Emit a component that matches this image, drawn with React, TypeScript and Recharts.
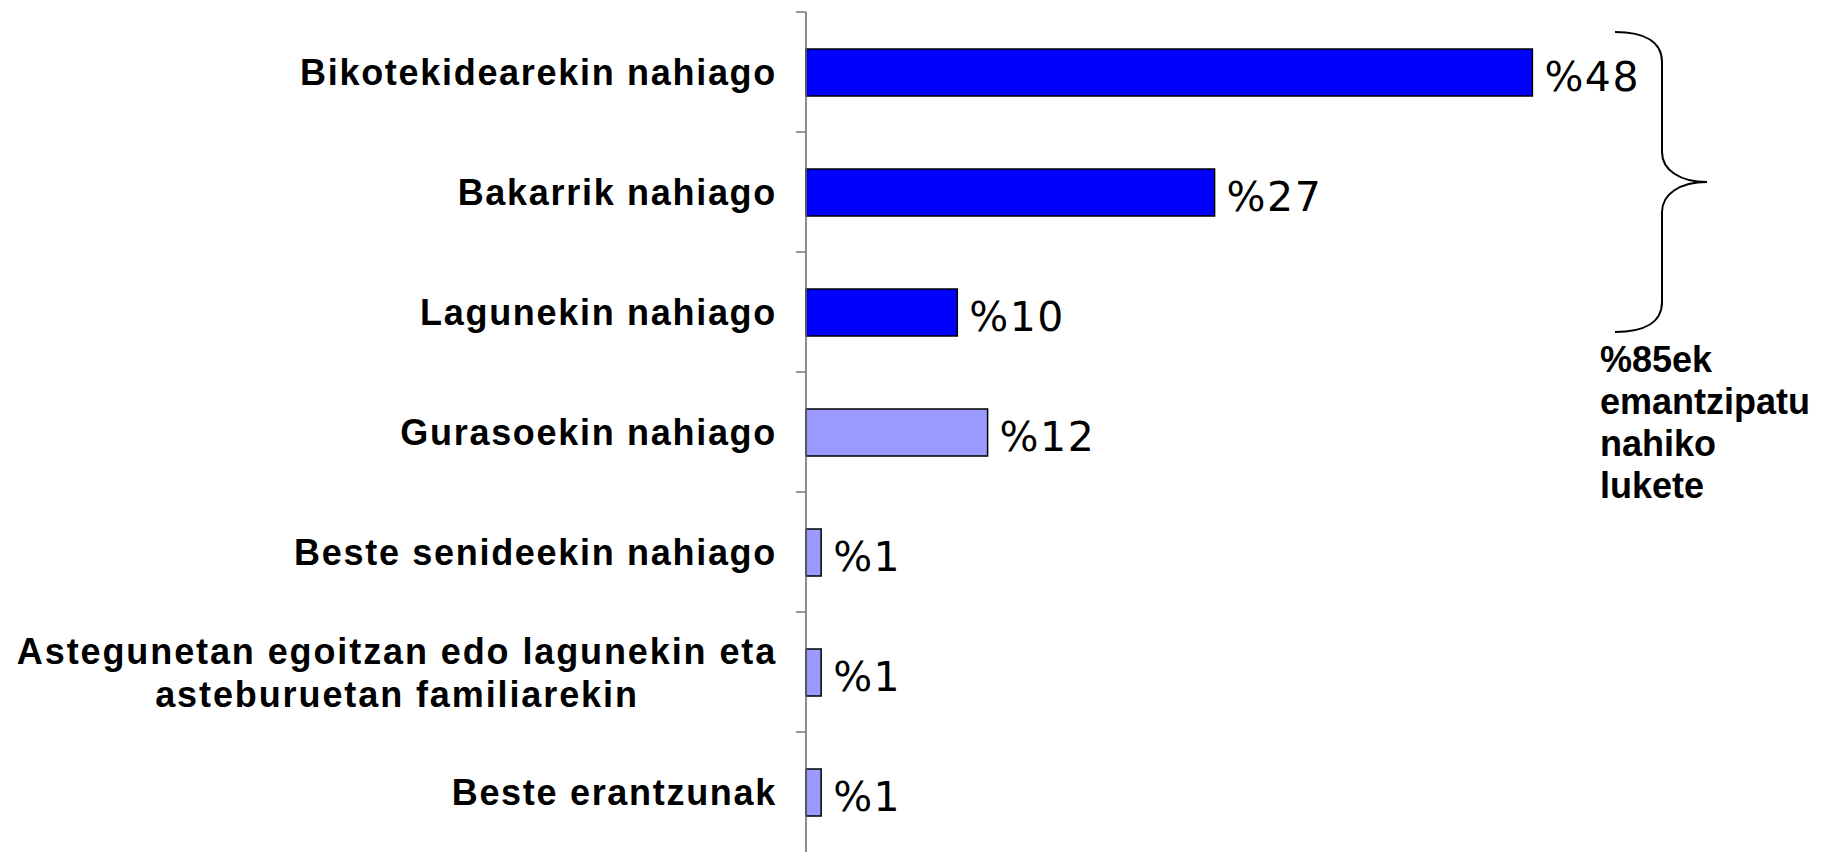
import { BarChart, Bar, XAxis, YAxis, Cell, LabelList } from "recharts";

const categories = [
  "Bikotekidearekin nahiago",
  "Bakarrik nahiago",
  "Lagunekin nahiago",
  "Gurasoekin nahiago",
  "Beste senideekin nahiago",
  "Astegunetan egoitzan edo lagunekin eta\nasteburuetan familiarekin",
  "Beste erantzunak",
];
const values = [48, 27, 10, 12, 1, 1, 1];
// true = would like to be emancipated (the bracketed group)
const emancipated = [true, true, true, false, false, false, false];
const annotationLines = ["%85ek", "emantzipatu", "nahiko", "lukete"];

const chartData = categories.map((name, i) => ({
  name,
  value: values[i],
  emancipated: emancipated[i],
}));

const labelFont = "'Liberation Sans', Arial, sans-serif";
const valueFont = "'DejaVu Sans', Verdana, sans-serif";

function CategoryTick(props: any) {
  const { x, y, payload } = props;
  const half = payload.offset ?? 0;
  const lines = String(payload.value).split("\n");
  const lineH = 43;
  const first = y + 13 - ((lines.length - 1) * lineH) / 2;
  const multi = lines.length > 1;
  return (
    <g>
      <line x1={x - 10} x2={x} y1={y - half} y2={y - half} stroke="#777" strokeWidth={1.5} />
      <text
        fontFamily={labelFont}
        fontWeight="bold"
        fontSize={36}
        letterSpacing={multi ? 1.9 : 1.7}
        fill="#000"
        textAnchor={multi ? "middle" : "end"}
      >
        {lines.map((l, i) => (
          <tspan key={i} x={multi ? x - 29 - 380 : x - 29} y={first + i * lineH}>
            {l}
          </tspan>
        ))}
      </text>
    </g>
  );
}

function ValueLabel(props: any) {
  const { x, y, width, height, value } = props;
  return (
    <text
      x={x + width + 12}
      y={y + height / 2 + 18}
      fontFamily={valueFont}
      fontSize={41}
      letterSpacing={1.5}
      fill="#000"
    >
      {`%${value}`}
    </text>
  );
}

export default function App() {
  return (
    <div style={{ position: "absolute", left: 0, top: 0, width: 1823, height: 852, background: "#fff" }}>
      <BarChart
        width={1823}
        height={852}
        data={chartData}
        layout="vertical"
        margin={{ top: 12, right: 109, left: 0, bottom: 0 }}
      >
        <XAxis type="number" domain={[0, 60]} hide />
        <YAxis
          type="category"
          dataKey="name"
          width={806}
          tickSize={0}
          tickMargin={0}
          tickLine={false}
          axisLine={{ stroke: "#666", strokeWidth: 1.5 }}
          tick={<CategoryTick />}
          interval={0}
        />
        <Bar
          dataKey="value"
          barSize={47}
          stroke="#000"
          strokeWidth={1.5}
          isAnimationActive={false}
        >
          {chartData.map((d, i) => (
            <Cell key={`cell-${i}`} fill={d.emancipated ? "#0000FF" : "#9999FF"} />
          ))}
          <LabelList dataKey="value" content={<ValueLabel />} />
        </Bar>
      </BarChart>
      <svg
        width={1823}
        height={852}
        style={{ position: "absolute", left: 0, top: 0, pointerEvents: "none" }}
      >
        <path
          d="M 1615 32 C 1645 32, 1662 42, 1662 62 L 1662 152 C 1662 170, 1680 182, 1707 182 C 1680 182, 1662 194, 1662 212 L 1662 302 C 1662 322, 1645 332, 1615 332"
          fill="none"
          stroke="#000"
          strokeWidth={2}
        />
        <text fontFamily={labelFont} fontWeight="bold" fontSize={36} fill="#000">
          {annotationLines.map((l, i) => (
            <tspan key={i} x={1600} y={372 + i * 42}>
              {l}
            </tspan>
          ))}
        </text>
      </svg>
    </div>
  );
}
